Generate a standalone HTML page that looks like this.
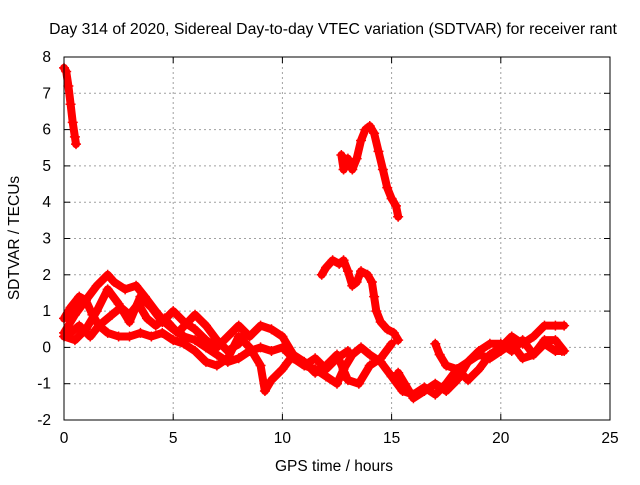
<!DOCTYPE html>
<html><head><meta charset="utf-8"><style>
body{margin:0;background:#fff;}
svg text{font-family:"Liberation Sans",sans-serif;font-size:15.5px;fill:#000;}
</style></head><body>
<svg width="640" height="480" id="chart">
<text x="333" y="34" text-anchor="middle" style="font-size:15.8px">Day 314 of 2020, Sidereal Day-to-day VTEC variation (SDTVAR) for receiver rant</text>
<text x="334" y="471" text-anchor="middle">GPS time / hours</text>
<text transform="translate(19,238) rotate(-90)" text-anchor="middle">SDTVAR / TECUs</text>
<g id="grid"></g><g id="ticks"></g><g id="marks"></g>
<rect x="64" y="57" width="546" height="363" fill="none" stroke="#000" stroke-width="1"/>
</svg>
<script>
const xTicks=[0,5,10,15,20,25];
const yTicks=[-2,-1,0,1,2,3,4,5,6,7,8];
const trackT1=[[0,7.7],[0.1,7.6],[0.2,7.2],[0.3,6.7],[0.4,6.2],[0.5,5.8],[0.55,5.6]];
const trackT2=[[12.7,5.3],[12.8,4.9],[13.0,5.2],[13.2,4.9],[13.4,5.2],[13.6,5.7],[13.8,6.0],[14.0,6.1],[14.2,5.9],[14.4,5.4],[14.6,4.9],[14.8,4.4],[15.0,4.1],[15.2,3.9],[15.3,3.6]];
const trackT3=[[11.8,2.0],[12.0,2.2],[12.3,2.4],[12.6,2.3],[12.8,2.4],[13.0,2.1],[13.2,1.7],[13.4,1.8],[13.6,2.1],[13.9,2.0],[14.1,1.8],[14.2,1.4],[14.3,1.0],[14.5,0.7],[14.8,0.5],[15.1,0.4],[15.3,0.2]];
const trackA=[[0,0.4],[0.5,0.9],[1.0,1.3],[1.5,1.7],[2.0,2.0],[2.3,1.8],[2.8,1.6],[3.3,1.7],[3.7,1.4],[4.2,1.0],[4.6,0.7],[5.0,0.5],[5.5,0.3],[6.0,0.2],[6.5,0.0],[7.0,-0.2],[7.5,-0.4],[8.0,-0.3],[8.5,-0.1],[9.0,0.0],[9.5,-0.1],[10.0,0.0],[10.5,-0.3],[11.0,-0.5],[11.5,-0.6],[12.0,-0.8],[12.5,-1.0],[12.8,-0.6],[13.2,-0.2],[13.6,0.0],[14.0,-0.2],[14.5,-0.4],[15.0,-0.8],[15.5,-1.2],[16.0,-1.3],[16.5,-1.1],[17.0,-1.3],[17.5,-1.0],[18.0,-0.6],[18.5,-0.4],[19.0,-0.2],[19.5,-0.3],[20.0,-0.1],[20.5,0.1],[21.0,-0.3],[21.5,-0.2],[22.0,0.1],[22.5,-0.1],[22.8,-0.1]];
const trackB=[[0,0.8],[0.3,1.1],[0.7,1.4],[1.0,1.3],[1.3,0.9],[1.6,0.6],[2.0,0.4],[2.5,0.3],[3.0,0.3],[3.5,0.4],[4.0,0.3],[4.5,0.4],[5.0,0.2],[5.5,0.1],[6.0,-0.1],[6.5,-0.4],[7.0,-0.5],[7.5,-0.3],[8.0,0.3],[8.5,0.0],[9.0,-0.5],[9.2,-1.2],[9.5,-0.9],[10.0,-0.6],[10.5,-0.2],[11.0,-0.4],[11.5,-0.7],[12.0,-0.5],[12.5,-0.2],[13.0,-0.9],[13.5,-1.0],[14.0,-0.5],[14.5,-0.3],[15.0,0.1]];
const trackC=[[0,0.3],[0.5,0.2],[1.0,0.5],[1.5,1.0],[2.0,1.6],[2.5,1.2],[3.0,0.7],[3.5,1.4],[4.0,1.1],[4.5,0.7],[5.0,1.0],[5.5,0.7],[6.0,0.5],[6.5,0.2],[7.0,0.0],[7.5,0.3],[8.0,0.6],[8.5,0.3],[9.0,0.6],[9.5,0.5],[10.0,0.3],[10.5,-0.2],[11.0,-0.5],[11.5,-0.3],[12.0,-0.6],[12.5,-0.3],[13.0,-0.1]];
const trackD=[[0.3,0.4],[0.7,0.6],[1.2,0.3],[1.6,0.6],[2.2,0.9],[2.6,1.1],[3.0,0.9],[3.4,1.2],[3.8,0.8],[4.2,0.6],[4.6,0.8],[5.2,0.4],[6.0,0.9],[6.5,0.6],[7.0,0.2],[7.5,-0.1],[8.0,0.1]];
const trackE=[[17.0,0.1],[17.2,-0.2],[17.5,-0.5],[18.0,-0.6],[18.5,-0.9],[19.0,-0.6],[19.5,-0.2],[20.0,0.0],[20.5,0.3],[21.0,0.1],[21.5,0.3],[22.0,0.6],[22.5,0.6],[22.9,0.6]];
const trackF=[[15.3,-0.7],[15.6,-1.0],[16.0,-1.4],[16.5,-1.2],[17.0,-1.0],[17.5,-1.2],[18.0,-0.9],[18.5,-0.4],[19.0,-0.1],[19.5,0.1],[20.0,0.1],[20.5,-0.1],[21.0,0.2],[21.5,-0.2],[22.0,0.2],[22.5,0.2],[22.9,-0.1]];
const tracks=[trackT1,trackT2,trackT3,trackA,trackB,trackC,trackD,trackE,trackF];
const NS="http://www.w3.org/2000/svg";
const X0=64,X1=610,Y0=420,Y1=57;
function sx(h){return X0+(h-0)/(25-0)*(X1-X0);}
function sy(v){return Y0-(v-(-2))/(8-(-2))*(Y0-Y1);}
function mk(tag,attrs,parent){const e=document.createElementNS(NS,tag);for(const k in attrs)e.setAttribute(k,attrs[k]);parent.appendChild(e);return e;}
const grid=document.getElementById('grid'),ticks=document.getElementById('ticks'),marks=document.getElementById('marks');
xTicks.forEach(t=>{const x=sx(t);
 if(t>0&&t<25){const l=mk('line',{x1:x,x2:x,y1:Y1,y2:Y0,stroke:'#a0a0a0','stroke-dasharray':'2,3'},grid);
 
 }
 mk('line',{x1:x,x2:x,y1:Y0,y2:Y0-6,stroke:'#000'},ticks);mk('line',{x1:x,x2:x,y1:Y1,y2:Y1+6,stroke:'#000'},ticks);
 const tx=mk('text',{x:x,y:443,'text-anchor':'middle'},ticks);tx.textContent=t;
 
 });
yTicks.forEach(t=>{const y=sy(t);
 if(t>-2&&t<8){const l=mk('line',{x1:X0,x2:X1,y1:y,y2:y,stroke:'#a0a0a0','stroke-dasharray':'2,3'},grid);
 
 }
 mk('line',{x1:X0,x2:X0+6,y1:y,y2:y,stroke:'#000'},ticks);mk('line',{x1:X1,x2:X1-6,y1:y,y2:y,stroke:'#000'},ticks);
 const tx=mk('text',{x:51,y:y+5,'text-anchor':'end'},ticks);tx.textContent=t;
 
 });
tracks.forEach((tr,i)=>{
 const pts=tr.map(p=>sx(p[0]).toFixed(1)+','+sy(p[1]).toFixed(1)).join(' ');
 const pl=mk('polyline',{points:pts,fill:'none',stroke:'#f00','stroke-width':8,'stroke-linejoin':'round','stroke-linecap':'round'},marks);
 
 
 tr.forEach(p=>{const x=sx(p[0]),y=sy(p[1]);
  const m=mk('path',{d:`M${x-5},${y}h10M${x},${y-5}v10`,stroke:'#f00','stroke-width':1.5},marks);
  
  });
});
</script>
</body></html>
